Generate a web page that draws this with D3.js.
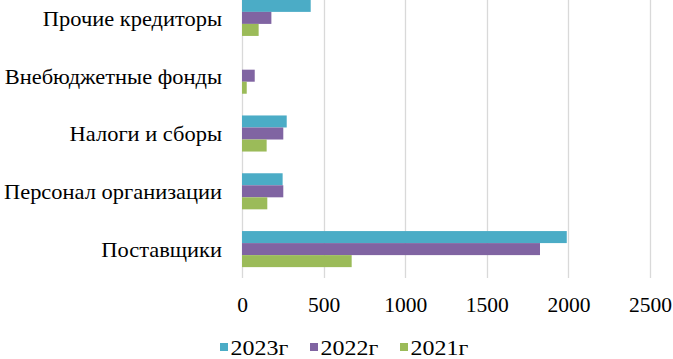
<!DOCTYPE html>
<html>
<head>
<meta charset="utf-8">
<script src="https://cdn.jsdelivr.net/npm/d3@7"></script>
<style>
  body { margin: 0; background: #fff; }
  svg text { font-family: "Times New Roman", "Liberation Serif", "DejaVu Serif", serif !important; fill: #000; }
</style>
</head>
<body>
<div id="chart"></div>
<script>
// categories top to bottom
const categories = ["Прочие кредиторы", "Внебюджетные фонды", "Налоги и сборы", "Персонал организации", "Поставщики"];
const seriesNames = ["2023г", "2022г", "2021г"];
const values2023 = [421, 0, 274, 249, 1990];
const values2022 = [180, 78, 253, 253, 1826];
const values2021 = [102, 29, 151, 155, 672];
const xTicks = [0, 500, 1000, 1500, 2000, 2500];
const colors = ["#4BACC6", "#8064A2", "#9BBB59"];

const allValues = [values2023, values2022, values2021];

const width = 673, height = 359;
const margin = { top: -11, right: 23, bottom: 81, left: 242 };
const plotW = width - margin.left - margin.right;
const plotH = height - margin.top - margin.bottom;

// the source picture has slightly wide lettering
function stretch(sel, k) {
    sel.each(function () {
        const len = this.getComputedTextLength();
        d3.select(this).attr("textLength", len * k).attr("lengthAdjust", "spacingAndGlyphs");
    });
}

const svg = d3.select("#chart").append("svg")
    .attr("width", width)
    .attr("height", height);

const g = svg.append("g")
    .attr("transform", `translate(${margin.left},${margin.top})`);

const xScale = d3.scaleLinear().domain([0, 2500]).range([0, plotW]);
const yScale = d3.scaleBand().domain(categories).range([0, plotH]).paddingInner(0.376).paddingOuter(0.188);
const ySub = d3.scaleBand().domain(seriesNames).range([0, yScale.bandwidth()]);

// gridlines
g.selectAll(".grid")
    .data(xTicks)
    .enter()
    .append("line")
    .attr("class", "grid")
    .attr("x1", d => Math.round(xScale(d)) + 0.5)
    .attr("x2", d => Math.round(xScale(d)) + 0.5)
    .attr("y1", 0)
    .attr("y2", plotH)
    .attr("stroke", "#d9d9d9")
    .attr("stroke-width", 1.3);

// bars
seriesNames.forEach((name, s) => {
    g.selectAll(".bar-" + s)
        .data(categories)
        .enter()
        .append("rect")
        .attr("class", "bar-" + s)
        .attr("x", xScale(0))
        .attr("y", d => yScale(d) + ySub(name))
        .attr("width", (d, i) => xScale(allValues[s][i]) - xScale(0))
        .attr("height", ySub.bandwidth())
        .attr("fill", colors[s]);
});

// x axis
const xAxis = d3.axisBottom(xScale).tickValues(xTicks).tickSize(0).tickPadding(20).tickFormat(d3.format("d"));
const xg = g.append("g").attr("transform", `translate(0,${plotH})`).call(xAxis);
xg.attr("font-family", null);
xg.select(".domain").remove();
xg.selectAll("text").style("font-size", "21.5px").attr("dy", "0.67em");

// y axis
const yAxis = d3.axisLeft(yScale).tickSize(0).tickPadding(20);
const yg = g.append("g").call(yAxis);
yg.attr("font-family", null);
yg.select(".domain").remove();
yg.selectAll("text").style("font-size", "22px").attr("dy", "0.36em").call(stretch, 1.02);

// legend
const legendX = [220, 310, 400];
const legend = svg.append("g").attr("transform", "translate(0,355)");
seriesNames.forEach((name, s) => {
    legend.append("rect")
        .attr("x", legendX[s])
        .attr("y", -12)
        .attr("width", 8)
        .attr("height", 8)
        .attr("fill", colors[s]);
    legend.append("text")
        .attr("x", legendX[s] + 10.5)
        .attr("y", 0)
        .style("font-size", "21px")
        .text(name)
        .call(stretch, 1.14);
});
</script>
</body>
</html>
